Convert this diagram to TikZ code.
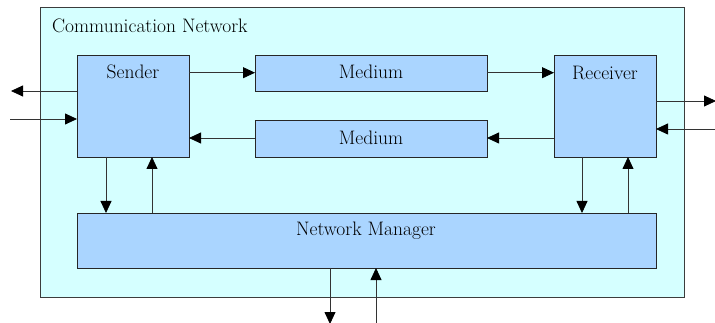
\documentclass[tikz,border=0pt]{standalone}
\usepackage{fontspec}
\newfontfamily\tms{Latin Modern Roman}
\usetikzlibrary{arrows.meta}
\definecolor{netbg}{RGB}{213,255,255}
\definecolor{boxbg}{RGB}{170,213,255}
\definecolor{frame}{RGB}{60,60,60}
\begin{document}
\begin{tikzpicture}[x=1pt,y=-1pt,
  blk/.style={draw=black!85,fill=boxbg,line width=0.9pt,inner sep=0pt,outer sep=0pt},
  lbl/.style={font=\tms\fontsize{19.5}{23}\selectfont,inner sep=0pt,anchor=center,text=black},
  conn/.style={line width=0.8pt,draw=black!80,-{Triangle[length=12pt,width=11pt,color=black]}}]
\useasboundingbox (0,0) rectangle (715,323);
% outer frame
\draw[draw=frame,fill=netbg,line width=0.9pt] (40,7) rectangle (684,297);
\node[lbl,anchor=west] (title) at (52,26) {Communication Network};
% blocks
\node[blk,minimum width=112pt,minimum height=102pt] (snd) at (133,106) {};
\node[blk,minimum width=232pt,minimum height=36pt] (med1) at (371,73) {};
\node[blk,minimum width=232pt,minimum height=37pt] (med2) at (371,138.5) {};
\node[blk,minimum width=102pt,minimum height=102pt] (rcv) at (605,106) {};
\node[blk,minimum width=579pt,minimum height=55pt] (nm) at (366.5,240.5) {};
% labels
\node[lbl] (sndl) at (133,72) {Sender};
\node[lbl] (rcvl) at (605,73) {Receiver};
\node[lbl] (med1l) at (371,72) {Medium};
\node[lbl] (med2l) at (371,138) {Medium};
\node[lbl] (nml) at (366,231) {Network Manager};
% free ends
\coordinate (lo) at (11,91);
\coordinate (li) at (10,119);
\coordinate (ro) at (716,101);
\coordinate (ri) at (715,129);
\coordinate (bo) at (330,324);
\coordinate (bi) at (376,323);
% horizontal connectors
\draw[conn] (snd.east |- 0,72.7) -- (med1.west |- 0,72.7);
\draw[conn] (med1.east |- 0,72.7) -- (rcv.west |- 0,72.7);
\draw[conn] (rcv.west |- 0,138) -- (med2.east |- 0,138);
\draw[conn] (med2.west |- 0,138) -- (snd.east |- 0,138);
\draw[conn] (snd.west |- lo) -- (lo);
\draw[conn] (li) -- (snd.west |- li);
\draw[conn] (rcv.east |- ro) -- (ro);
\draw[conn] (ri) -- (rcv.east |- ri);
% vertical connectors
\draw[conn] (snd.south -| 106,0) -- (nm.north -| 106,0);
\draw[conn] (nm.north -| 152,0) -- (snd.south -| 152,0);
\draw[conn] (rcv.south -| 582,0) -- (nm.north -| 582,0);
\draw[conn] (nm.north -| 628,0) -- (rcv.south -| 628,0);
\draw[conn] (nm.south -| bo) -- (bo);
\draw[conn] (bi) -- (nm.south -| bi);
\end{tikzpicture}
\end{document}
